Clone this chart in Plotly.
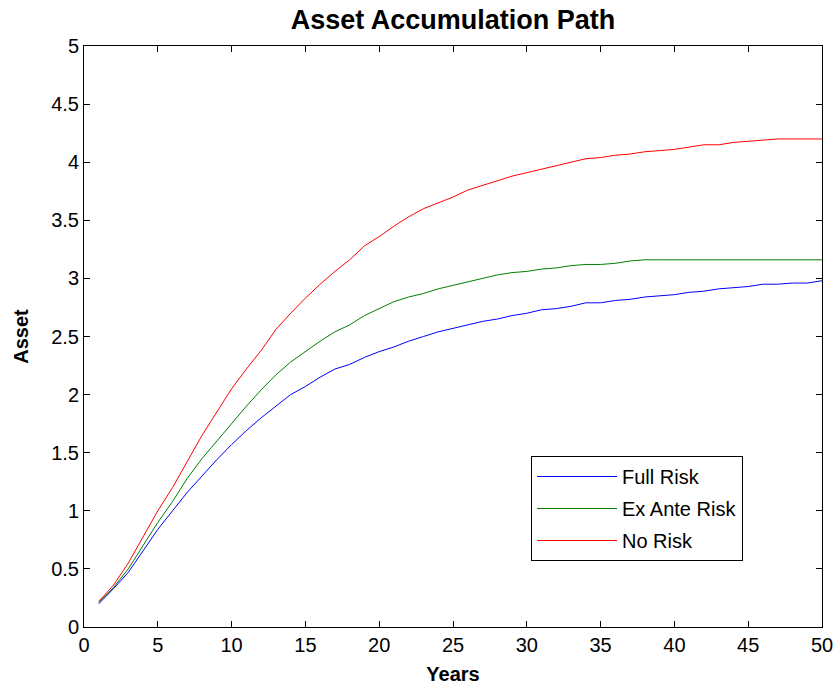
import plotly.graph_objects as go

years = list(range(1, 51))
full_risk = [0.20, 0.33, 0.47, 0.66, 0.84, 1.00, 1.16, 1.30, 1.44, 1.57,
             1.69, 1.80, 1.90, 2.00, 2.07, 2.15, 2.22, 2.26, 2.32, 2.37,
             2.41, 2.46, 2.50, 2.54, 2.57, 2.60, 2.63, 2.65, 2.68, 2.70,
             2.73, 2.74, 2.76, 2.79, 2.79, 2.81, 2.82, 2.84, 2.85, 2.86,
             2.88, 2.89, 2.91, 2.92, 2.93, 2.95, 2.95, 2.96, 2.96, 2.98]
ex_ante = [0.21, 0.34, 0.50, 0.70, 0.90, 1.08, 1.28, 1.45, 1.60, 1.76,
           1.90, 2.04, 2.17, 2.28, 2.37, 2.46, 2.54, 2.60, 2.68, 2.74,
           2.80, 2.84, 2.87, 2.91, 2.94, 2.97, 3.00, 3.03, 3.05, 3.06,
           3.08, 3.09, 3.11, 3.12, 3.12, 3.13, 3.15, 3.16, 3.16, 3.16,
           3.16, 3.16, 3.16, 3.16, 3.16, 3.16, 3.16, 3.16, 3.16, 3.16]
no_risk = [0.22, 0.36, 0.55, 0.78, 1.00, 1.20, 1.43, 1.65, 1.85, 2.05,
           2.22, 2.38, 2.56, 2.70, 2.83, 2.95, 3.06, 3.16, 3.28, 3.36,
           3.45, 3.53, 3.60, 3.65, 3.70, 3.76, 3.80, 3.84, 3.88, 3.91,
           3.94, 3.97, 4.00, 4.03, 4.04, 4.06, 4.07, 4.09, 4.10, 4.11,
           4.13, 4.15, 4.15, 4.17, 4.18, 4.19, 4.20, 4.20, 4.20, 4.20]

x_ticks = [0, 5, 10, 15, 20, 25, 30, 35, 40, 45, 50]
y_ticks = [0, 0.5, 1, 1.5, 2, 2.5, 3, 3.5, 4, 4.5, 5]
y_labels = ["0", "0.5", "1", "1.5", "2", "2.5", "3", "3.5", "4", "4.5", "5"]

font = "Liberation Sans, Arial, sans-serif"

fig = go.Figure()
fig.add_trace(go.Scatter(x=years, y=full_risk, mode="lines", name="Full Risk",
                         legendgroup="a", line=dict(color="#0000ff", width=1)))
fig.add_trace(go.Scatter(x=years, y=ex_ante, mode="lines", name="Ex Ante Risk",
                         legendgroup="b", line=dict(color="#008000", width=1)))
fig.add_trace(go.Scatter(x=years, y=no_risk, mode="lines", name="No Risk",
                         legendgroup="c", line=dict(color="#ff0000", width=1)))

fig.update_layout(
    width=837, height=686,
    margin=dict(l=84, r=15, t=46, b=59, autoexpand=False),
    paper_bgcolor="white", plot_bgcolor="white",
    font=dict(family=font, size=20, color="black"),
    title=dict(text="<b>Asset Accumulation Path</b>", x=(84 + 822) / 2 / 837,
               xanchor="center", y=1 - 20 / 686, yanchor="middle",
               font=dict(size=27, family=font)),
    showlegend=True,
    legend=dict(x=(531 - 84) / 738, y=(627 - 456) / 581, xanchor="left", yanchor="top",
                bordercolor="black", borderwidth=1, bgcolor="white",
                font=dict(size=20, family=font), tracegroupgap=3,
                itemwidth=80, entrywidth=207),
)
fig.update_xaxes(range=[0, 50], tickvals=x_ticks, ticktext=[str(v) for v in x_ticks],
                 ticks="inside", ticklen=6, tickcolor="black", showline=True,
                 linecolor="black", linewidth=1, mirror="ticks", showgrid=False,
                 zeroline=False, automargin=False,
                 title=dict(text="<b>Years</b>", standoff=11, font=dict(size=20)))
fig.update_yaxes(range=[0, 5], tickvals=y_ticks, ticktext=y_labels,
                 ticks="inside", ticklen=6, tickcolor="black", showline=True,
                 linecolor="black", linewidth=1, mirror="ticks", showgrid=False,
                 zeroline=False, automargin=False,
                 title=dict(text="<b>Asset</b>", standoff=17, font=dict(size=20)))

fig.write_html("out.html", config={"displayModeBar": False},
               post_script="document.body.style.margin='0px';")
